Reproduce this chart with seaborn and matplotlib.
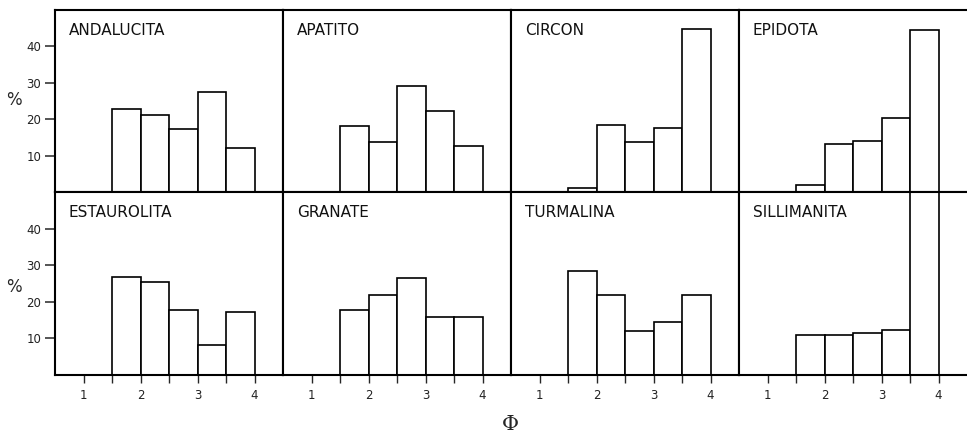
import matplotlib
matplotlib.use("Agg")
import matplotlib.pyplot as plt
import seaborn as sns
import numpy as np

# ---- data ----
phi_bins = [1.5, 2.0, 2.5, 3.0, 3.5, 4.0]
phi_mid = [1.75, 2.25, 2.75, 3.25, 3.75]
minerals_top = ["ANDALUCITA", "APATITO", "CIRCON", "EPIDOTA"]
minerals_bottom = ["ESTAUROLITA", "GRANATE", "TURMALINA", "SILLIMANITA"]
andalucita = [22.9, 21.1, 17.2, 27.6, 12.1]
apatito = [18.2, 13.6, 29.1, 22.3, 12.7]
circon = [1.0, 18.5, 13.7, 17.5, 44.8]
epidota = [1.8, 13.1, 14.1, 20.3, 44.4]
estaurolita = [26.8, 25.5, 17.7, 8.3, 17.3]
granate = [17.8, 21.8, 26.6, 15.9, 15.9]
turmalina = [28.3, 21.8, 11.9, 14.4, 21.8]
sillimanita = [10.8, 11.0, 11.6, 12.3, 54.0]
x_ticks = [1, 2, 3, 4]
x_minor = [1.5, 2.5, 3.5]
y_ticks = [10, 20, 30, 40]

series = {
    "ANDALUCITA": andalucita, "APATITO": apatito, "CIRCON": circon, "EPIDOTA": epidota,
    "ESTAUROLITA": estaurolita, "GRANATE": granate, "TURMALINA": turmalina,
    "SILLIMANITA": sillimanita,
}

sns.set_style("white")
plt.rcParams["font.family"] = ["DejaVu Sans"]

W, H = 967, 442
fig = plt.figure(figsize=(W / 100, H / 100), dpi=100)

left0 = 55
colw = 228
rows = [(10, 192), (192, 375)]

for r, names in enumerate([minerals_top, minerals_bottom]):
    ytop, ybot = rows[r]
    for c, name in enumerate(names):
        x0 = left0 + c * colw
        ax = fig.add_axes([x0 / W, (H - ybot) / H, colw / W, (ybot - ytop) / H])
        sns.histplot(x=phi_mid, weights=series[name], bins=phi_bins, stat="count",
                     color="white", edgecolor="black", linewidth=1.2, alpha=1,
                     ax=ax)
        ax.set_xlim(0.5, 4.5)
        ax.set_ylim(0, 50)
        ax.set_xlabel("")
        ax.set_ylabel("")
        for s in ax.spines.values():
            s.set_color("black")
            s.set_linewidth(1.5)
        if c == 3:
            ax.spines["right"].set_visible(False)
        ax.text(0.06, 0.93, name, transform=ax.transAxes, fontsize=11,
                ha="left", va="top", color="#111111")
        # y ticks
        if c == 0:
            ax.set_yticks(y_ticks)
            ax.set_yticklabels([str(v) for v in y_ticks], fontsize=8.5, color="#222222")
            ax.tick_params(axis="y", direction="out", length=7, width=1.1, left=True, pad=3)
        else:
            ax.set_yticks([])
        # x ticks
        if r == 1:
            ax.set_xticks(x_ticks)
            ax.set_xticks(x_minor, minor=True)
            ax.set_xticklabels([str(v) for v in x_ticks], fontsize=8.5, color="#222222")
            ax.tick_params(axis="x", which="both", direction="out", length=6,
                           width=1.0, bottom=True, pad=4)
        else:
            ax.set_xticks([])

fig.text(14 / W, 1 - 100 / H, "%", fontsize=12, ha="center", va="center")
fig.text(14 / W, 1 - 287 / H, "%", fontsize=12, ha="center", va="center")
fig.text(510 / W, 1 - 425 / H, "Φ", fontsize=15, ha="center", va="center",
         family=["DejaVu Serif"])

fig.savefig("out.png", dpi=100)
